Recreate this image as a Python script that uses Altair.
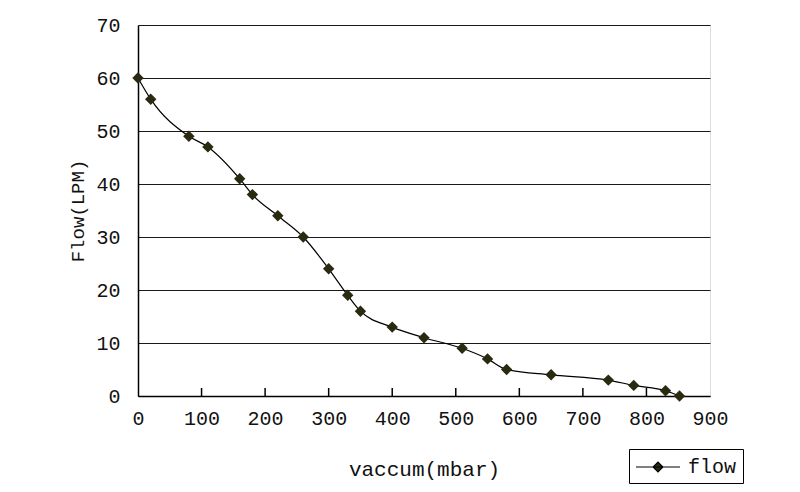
import altair as alt
import pandas as pd

vacuum = [0, 20, 80, 110, 160, 180, 220, 260, 300, 330, 350, 400, 450, 510, 550, 580, 650, 740, 780, 830, 852]
flow = [60, 56, 49, 47, 41, 38, 34, 30, 24, 19, 16, 13, 11, 9, 7, 5, 4, 3, 2, 1, 0]
x_ticks = [100, 200, 300, 400, 500, 600, 700, 800]

df = pd.DataFrame({"vacuum": vacuum, "flow": flow, "series": ["flow"] * len(flow)})
ticks_df = pd.DataFrame({"t": x_ticks})

W, H = 572, 371
FONT = "Liberation Mono"

xs = alt.Scale(domain=[0, 900], nice=False)
ys = alt.Scale(domain=[0, 70], nice=False)

xaxis = alt.Axis(values=list(range(0, 1000, 100)), grid=False, ticks=False, labelFlush=False,
                 labelFont=FONT, labelFontSize=20, labelColor="#111", labelPadding=12,
                 title="vaccum(mbar)", titleFont=FONT, titleFontSize=21, titleFontWeight="normal",
                 titleColor="#111", titlePadding=30, domainColor="#000", domainWidth=1.5)
yaxis = alt.Axis(values=list(range(0, 80, 10)), grid=True, gridColor="#1a1a1a", gridWidth=1.2,
                 ticks=False, labelFlush=False, labelFont=FONT, labelFontSize=20, labelColor="#111",
                 labelPadding=18,
                 title="Flow(LPM)", titleFont=FONT, titleFontSize=19, titleFontWeight="normal",
                 titleColor="#111", titlePadding=8, domainColor="#000", domainWidth=1.5)

base = alt.Chart(df)

line = base.mark_line(color="#000", strokeWidth=1.2, interpolate="monotone").encode(
    x=alt.X("vacuum:Q", scale=xs, axis=xaxis),
    y=alt.Y("flow:Q", scale=ys, axis=yaxis),
)

points = base.mark_point(filled=True, shape="diamond", size=130, opacity=1).encode(
    x=alt.X("vacuum:Q", scale=xs),
    y=alt.Y("flow:Q", scale=ys),
    color=alt.Color("series:N", scale=alt.Scale(range=["#2a2a10"]),
                    legend=alt.Legend(title=None, orient="none", legendX=491, legendY=424,
                                      symbolType="M-2,0H2M0,-0.45L0.45,0L0,0.45L-0.45,0Z",
                                      symbolSize=484, symbolStrokeColor="#000",
                                      symbolStrokeWidth=1.2, symbolOffset=11,
                                      labelOffset=18, labelFont=FONT, labelFontSize=20,
                                      labelColor="#111", padding=6,
                                      strokeColor="#000", fillColor="#fff")),
)

tick_marks = alt.Chart(ticks_df).mark_rule(color="#000", strokeWidth=1.5).encode(
    x=alt.X("t:Q", scale=xs),
    y=alt.value(H - 8),
    y2=alt.value(H),
)

chart = alt.layer(line, tick_marks, points).properties(
    width=W, height=H,
    autosize=alt.AutoSizeParams(type="none"),
    padding={"left": 130, "top": 17, "right": 82, "bottom": 92},
).configure_view(stroke="#000", strokeWidth=1.5).configure(background="#fff")

chart.save("out.html", embed_options={"renderer": "svg", "actions": False})
